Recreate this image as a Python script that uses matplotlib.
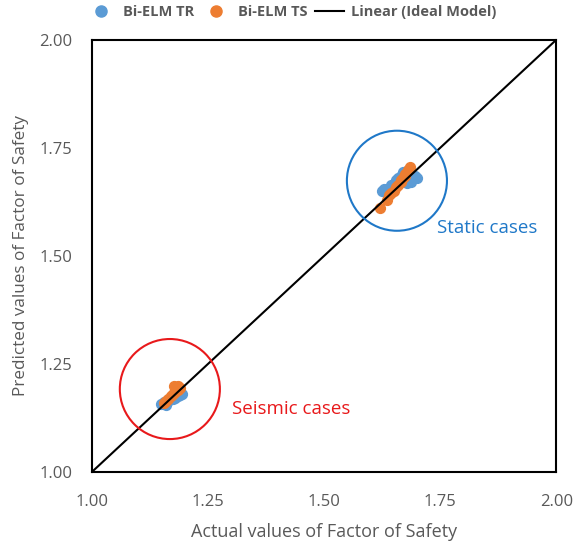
import numpy as np
import matplotlib.pyplot as plt
from matplotlib.patches import Ellipse
from matplotlib.lines import Line2D

plt.rcParams['font.family'] = ['Open Sans', 'DejaVu Sans']

# static cases
st_tr_x = [1.625, 1.63, 1.64, 1.645, 1.65, 1.655, 1.66, 1.66, 1.665, 1.67, 1.675, 1.68, 1.685, 1.69, 1.695, 1.70, 1.67, 1.68, 1.655, 1.645, 1.688, 1.678]
st_tr_y = [1.65, 1.655, 1.65, 1.66, 1.655, 1.665, 1.67, 1.68, 1.685, 1.675, 1.69, 1.695, 1.68, 1.69, 1.685, 1.68, 1.695, 1.70, 1.675, 1.665, 1.672, 1.668]
st_ts_x = [1.62, 1.635, 1.64, 1.645, 1.65, 1.655, 1.66, 1.665, 1.67, 1.675, 1.68, 1.685, 1.665, 1.675]
st_ts_y = [1.61, 1.63, 1.64, 1.645, 1.65, 1.66, 1.665, 1.67, 1.68, 1.69, 1.70, 1.705, 1.675, 1.685]

# seismic cases
se_tr_x = [1.148, 1.155, 1.16, 1.165, 1.17, 1.175, 1.18, 1.185, 1.19, 1.195, 1.16, 1.18]
se_tr_y = [1.158, 1.162, 1.16, 1.165, 1.168, 1.17, 1.172, 1.175, 1.178, 1.18, 1.155, 1.18]
se_ts_x = [1.155, 1.16, 1.165, 1.17, 1.175, 1.18, 1.185, 1.19, 1.185, 1.178]
se_ts_y = [1.16, 1.165, 1.17, 1.175, 1.18, 1.185, 1.19, 1.195, 1.20, 1.20]

ticks = [1.00, 1.25, 1.50, 1.75, 2.00]

blue = '#5B9BD5'
orange = '#ED7D31'
gray = '#595959'

fig = plt.figure(figsize=(5.74, 5.46), dpi=100)
ax = fig.add_axes([0.160, 0.1355, 0.809, 0.7915])

ax.scatter(st_tr_x + se_tr_x, st_tr_y + se_tr_y, s=50, color=blue, zorder=2)
ax.scatter(st_ts_x + se_ts_x, st_ts_y + se_ts_y, s=50, color=orange, zorder=3)
ax.plot([1, 2], [1, 2], color='black', lw=1.5, zorder=4)

ax.add_patch(Ellipse((1.657, 1.674), 0.2155, 0.2315, fill=False, ec='#1F78C8', lw=1.5, zorder=5))
ax.add_patch(Ellipse((1.168, 1.192), 0.2155, 0.2315, fill=False, ec='#E8191B', lw=1.5, zorder=5))
ax.text(1.743, 1.553, 'Static cases', color='#1F78C8', fontsize=13.5)
ax.text(1.302, 1.135, 'Seismic cases', color='#E8191B', fontsize=13.5)

ax.set_xlim(1, 2)
ax.set_ylim(1, 2)
ax.set_xticks(ticks)
ax.set_yticks(ticks)
ax.set_xticklabels(['%.2f' % t for t in ticks])
ax.set_yticklabels(['%.2f' % t for t in ticks])
ax.tick_params(length=0, labelsize=12, labelcolor=gray)
ax.tick_params(axis='x', pad=16)
ax.tick_params(axis='y', pad=14)
for sp in ax.spines.values():
    sp.set_linewidth(1.5)
    sp.set_color('black')

ax.set_xlabel('Actual values of Factor of Safety', fontsize=13, color=gray, labelpad=9)
ax.set_ylabel('Predicted values of Factor of Safety', fontsize=12.3, color=gray)
ax.yaxis.set_label_coords(-0.136, 0.50)

handles = [
    Line2D([], [], marker='o', ls='', color=blue, markersize=8),
    Line2D([], [], marker='o', ls='', color=orange, markersize=8),
    Line2D([], [], color='black', lw=1.5),
]
leg = fig.legend(handles, ['Bi-ELM TR', 'Bi-ELM TS', 'Linear (Ideal Model)'], loc='upper center',
                 bbox_to_anchor=(0.508, 1.015), ncol=3, frameon=False, fontsize=10.5,
                 handlelength=2.0, columnspacing=0.5, handletextpad=0.5)
for t in leg.get_texts():
    t.set_color(gray)
    t.set_fontweight('bold')

fig.savefig('out.png', dpi=100)
